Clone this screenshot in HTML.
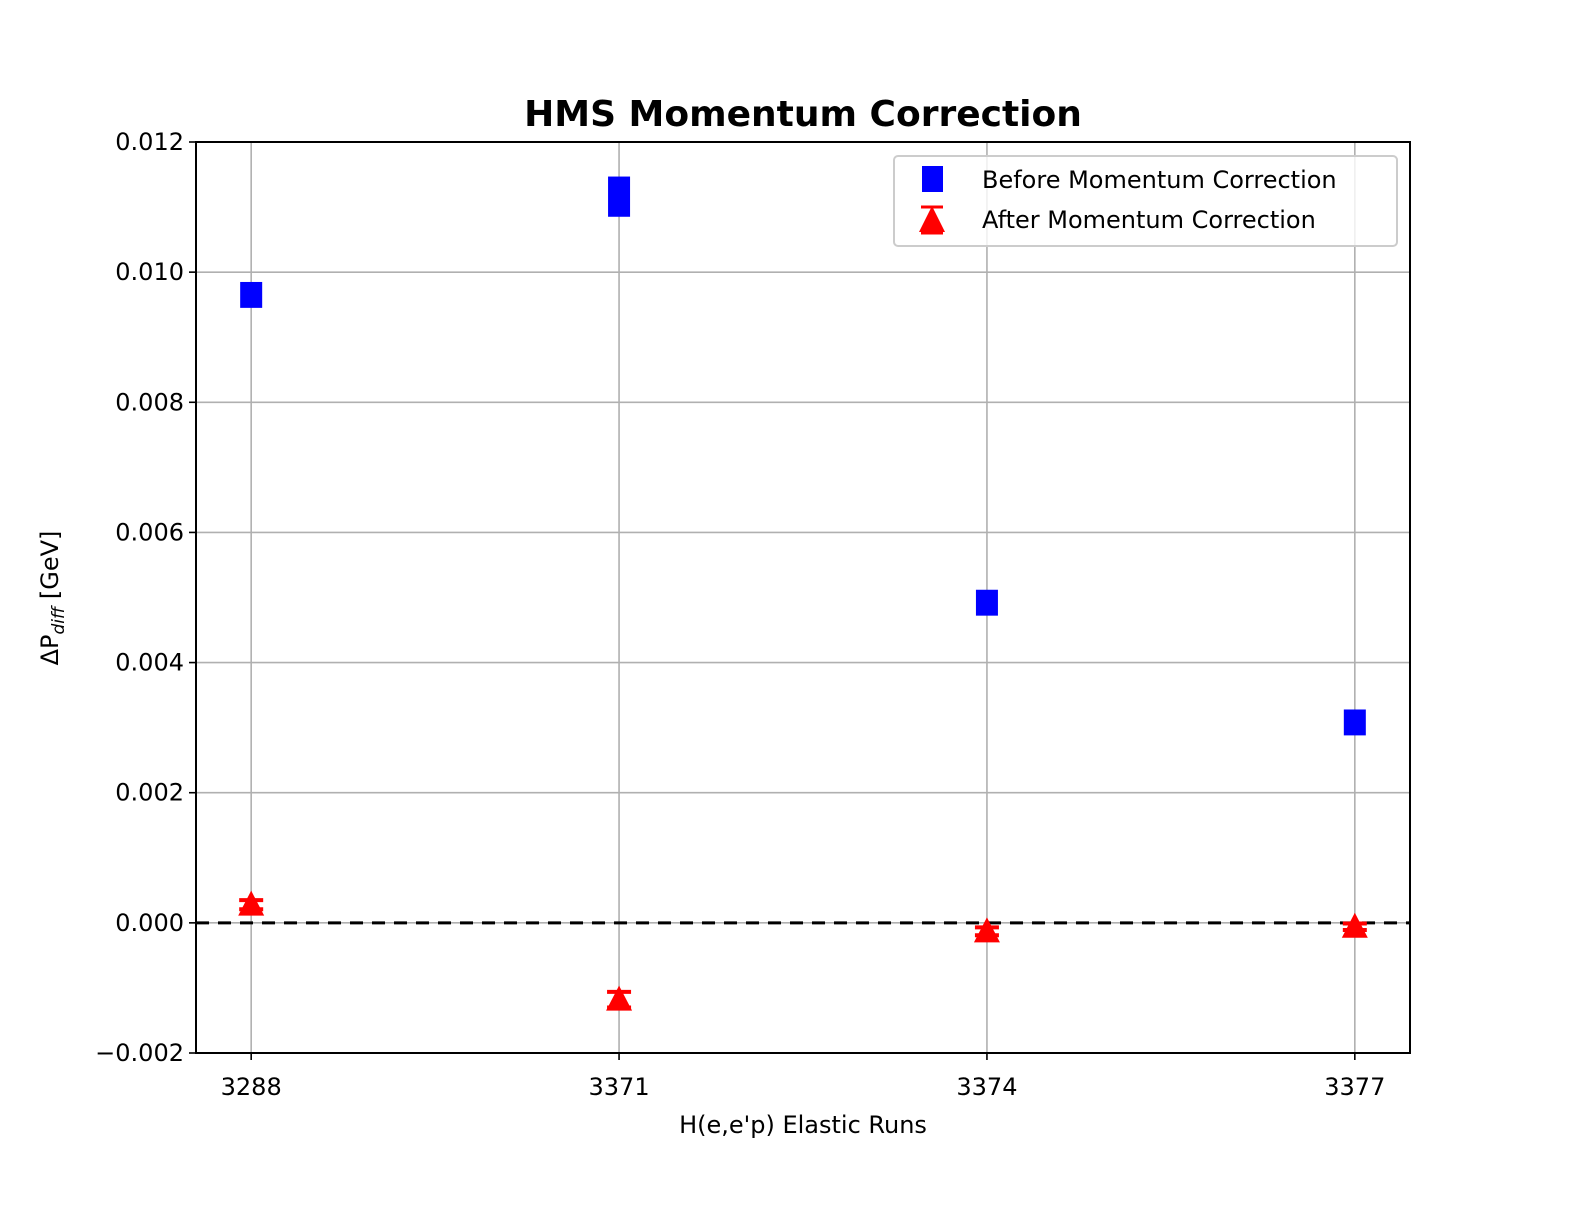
<!DOCTYPE html>
<html><head><meta charset="utf-8"><style>
body{margin:0;background:#fff}
svg{display:block;font-family:"DejaVu Sans","Liberation Sans",sans-serif}
</style></head><body>
<svg id="chart" width="1596" height="1206" viewBox="0 0 1596 1206">
<text x="803" y="126" text-anchor="middle" font-size="36" font-weight="bold">HMS Momentum Correction</text>
<g id="grid"></g>
<g id="marks"></g>
<rect x="196" y="142" width="1214" height="911" fill="none" stroke="#000" stroke-width="2"/>
<g id="axes" font-size="24"></g>
<text x="803" y="1133" text-anchor="middle" font-size="24">H(e,e'p) Elastic Runs</text>
<text transform="translate(58,598) rotate(-90)" text-anchor="middle" font-size="24">ΔP<tspan font-style="italic" font-size="17" dy="6">diff</tspan><tspan dy="-6"> [GeV]</tspan></text>
<g>
<rect x="894" y="156" width="503" height="90" rx="4" fill="#fff" stroke="#ccc" stroke-width="2" fill-opacity="0.8"/>
<g>
<rect x="922" y="166" width="21" height="26" fill="#0000ff"/>
<text x="982" y="188" font-size="24">Before Momentum Correction</text></g>
<g>
<line x1="921" y1="207" x2="943" y2="207" stroke="#f00" stroke-width="3"/>
<line x1="921" y1="233" x2="943" y2="233" stroke="#f00" stroke-width="3"/>
<polygon points="932,206 945,232 919,232" fill="#f00"/>
<text x="982" y="228" font-size="24">After Momentum Correction</text></g>
</g>
</svg>
<script>
const categories=["3288","3371","3374","3377"];
const beforeVals=[0.00965,0.01116,0.00492,0.00308];
const beforeErr=[0.00003,0.00014,0.00003,0.00003];
const afterVals=[0.00028,-0.00118,-0.00013,-0.00006];
const afterErr=[0.00007,0.00012,0.00006,0.00005];
const yTicks=[-0.002,0,0.002,0.004,0.006,0.008,0.010,0.012];
const yTickLabels=["\u22120.002","0.000","0.002","0.004","0.006","0.008","0.010","0.012"];
const L=196,R=1410,T=142,B=1053;
const xs=i=>L+(i+0.15)/3.3*(R-L);
const ys=v=>B-(v+0.002)/0.014*(B-T);
const NS="http://www.w3.org/2000/svg";
function mk(tag,attrs,parent){const e=document.createElementNS(NS,tag);for(const k in attrs)e.setAttribute(k,attrs[k]);parent.appendChild(e);return e;}
const grid=document.getElementById('grid'),marks=document.getElementById('marks'),axes=document.getElementById('axes');
yTicks.forEach((t,i)=>{const y=ys(t);
 const g=mk('line',{x1:L,x2:R,y1:y,y2:y,stroke:'#b0b0b0','stroke-width':1.6},grid);
 
 
 mk('line',{x1:L-7,x2:L,y1:y,y2:y,stroke:'#000','stroke-width':1.6},axes);
 const tx=mk('text',{x:L-12,y:y+8,'text-anchor':'end'},axes);tx.textContent=yTickLabels[i];
 
 
});
categories.forEach((c,i)=>{const x=xs(i);
 const g=mk('line',{x1:x,x2:x,y1:T,y2:B,stroke:'#b0b0b0','stroke-width':1.6},grid);
 
 
 mk('line',{x1:x,x2:x,y1:B,y2:B+7,stroke:'#000','stroke-width':1.6},axes);
 const tx=mk('text',{x:x,y:B+42,'text-anchor':'middle'},axes);tx.textContent=c;
 
 
});
const zl=mk('line',{x1:L,x2:R,y1:ys(0),y2:ys(0),stroke:'#000','stroke-width':3,'stroke-dasharray':'13,9'},marks);


categories.forEach((c,i)=>{const x=xs(i);
 const y1=ys(beforeVals[i]+beforeErr[i]),y2=ys(beforeVals[i]-beforeErr[i]);
 const g=mk('g',{},marks);
 
 
 mk('rect',{x:x-11,y:y1-11,width:22,height:(y2-y1)+22,fill:'#0000ff'},g);
 const ay=ys(afterVals[i]),a1=ys(afterVals[i]+afterErr[i]),a2=ys(afterVals[i]-afterErr[i]);
 const h=mk('g',{},marks);
 
 
 mk('line',{x1:x,x2:x,y1:a1,y2:a2,stroke:'#f00','stroke-width':3},h);
 mk('line',{x1:x-12,x2:x+12,y1:a1,y2:a1,stroke:'#f00','stroke-width':4},h);
 mk('line',{x1:x-12,x2:x+12,y1:a2,y2:a2,stroke:'#f00','stroke-width':4},h);
 mk('polygon',{points:`${x},${ay-14} ${x+13},${ay+11} ${x-13},${ay+11}`,fill:'#f00'},h);
});
</script>
</body></html>
